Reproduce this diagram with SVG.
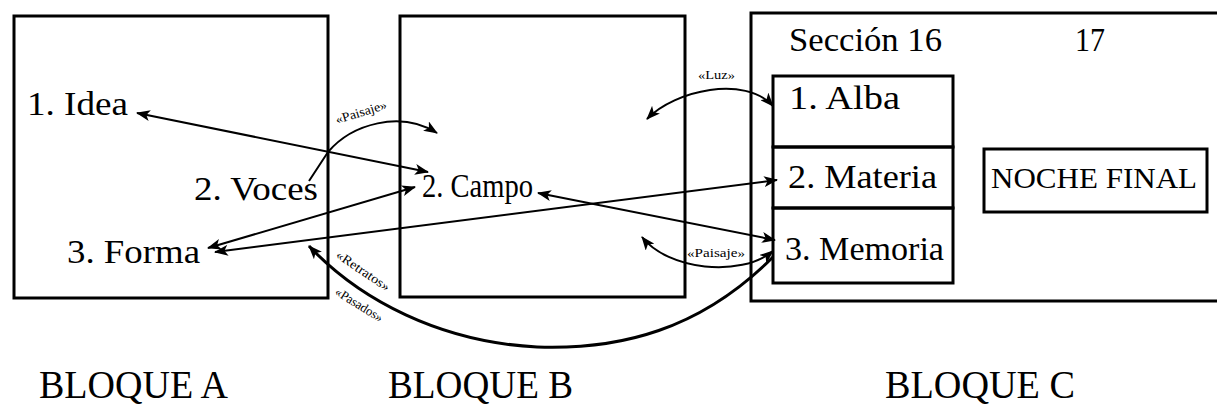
<svg xmlns="http://www.w3.org/2000/svg" width="1217" height="408" viewBox="0 0 1217 408">
<style>
.box{fill:none;stroke:#000;stroke-width:3}
.t{font-family:"Liberation Serif",serif;fill:#000}
.lbl{font-size:33px}
.big{font-size:40px}
.sm{font-family:"Liberation Serif",serif;font-size:13px;fill:#000}
.c{fill:none;stroke:#000;stroke-width:2}
.cb{fill:none;stroke:#000;stroke-width:3}
</style>
<defs>
<marker id="ah" viewBox="0 0 14 11" refX="13" refY="5.5" markerWidth="14" markerHeight="11" markerUnits="userSpaceOnUse" orient="auto-start-reverse">
<path d="M0,0 L14,5.5 L0,11 L3.5,5.5 Z" fill="#000"/>
</marker>
</defs>
<rect width="1217" height="408" fill="#fff"/>

<g id="bloqueA">
<rect class="box" x="14" y="16" width="314" height="282"/>
<text class="t lbl" x="27" y="115" textLength="101" lengthAdjust="spacingAndGlyphs">1. Idea</text>
<text class="t lbl" x="194" y="200" textLength="124" lengthAdjust="spacingAndGlyphs">2.  Voces</text>
<text class="t lbl" x="67" y="263" textLength="133" lengthAdjust="spacingAndGlyphs">3.  Forma</text>
<text class="t big" x="39" y="398" textLength="189" lengthAdjust="spacingAndGlyphs">BLOQUE A</text>
</g>

<g id="bloqueB">
<rect class="box" x="400" y="16" width="285" height="281"/>
<text class="t lbl" x="422" y="197" textLength="111" lengthAdjust="spacingAndGlyphs">2. Campo</text>
<text class="t big" x="388" y="398" textLength="185" lengthAdjust="spacingAndGlyphs">BLOQUE B</text>
</g>

<g id="bloqueC">
<path class="box" d="M1217,13 L751,13 L751,301 L1217,301"/>
<text class="t lbl" x="789" y="51" textLength="153" lengthAdjust="spacingAndGlyphs">Sección  16</text>
<text class="t lbl" x="1075" y="51" textLength="30" lengthAdjust="spacingAndGlyphs">17</text>
<text class="t big" x="885" y="398" textLength="190" lengthAdjust="spacingAndGlyphs">BLOQUE C</text>
</g>

<g id="alba">
<rect class="box" x="773" y="76" width="180" height="71"/>
<text class="t lbl" x="789" y="109" textLength="111" lengthAdjust="spacingAndGlyphs">1.  Alba</text>
</g>
<g id="materia">
<rect class="box" x="773" y="147" width="180" height="61"/>
<text class="t lbl" x="788" y="188" textLength="149" lengthAdjust="spacingAndGlyphs">2.  Materia</text>
</g>
<g id="memoria">
<rect class="box" x="773" y="208" width="180" height="75"/>
<text class="t lbl" x="785" y="260" textLength="159" lengthAdjust="spacingAndGlyphs">3. Memoria</text>
</g>
<g id="noche">
<rect class="box" x="984" y="149" width="223" height="63" stroke-width="2"/>
<text class="t" font-size="30" x="991" y="188" textLength="206" lengthAdjust="spacingAndGlyphs">NOCHE FINAL</text>
</g>

<g id="connectors">
<line class="c" x1="137" y1="113" x2="428" y2="172" marker-start="url(#ah)" marker-end="url(#ah)"/>
<path class="c" d="M309,181 L328,152 C352,124 400,110 437,133" marker-end="url(#ah)"/>
<line class="c" x1="208" y1="248" x2="415" y2="187" marker-start="url(#ah)" marker-end="url(#ah)"/>
<line class="c" x1="215" y1="252" x2="777" y2="180" marker-start="url(#ah)" marker-end="url(#ah)"/>
<line class="c" x1="538" y1="193" x2="775" y2="240" marker-start="url(#ah)" marker-end="url(#ah)"/>
<path class="c" d="M642,237 C668,270 740,278 773,251" marker-start="url(#ah)" marker-end="url(#ah)"/>
<path class="c" d="M647,119 C675,90 745,75 773,106" marker-start="url(#ah)" marker-end="url(#ah)"/>
<path class="cb" d="M773,257 C700,330 620,350 537,347 C440,342 360,300 309,246" marker-end="url(#ah)"/>
<text class="sm" transform="translate(337,124) rotate(-17)" textLength="53" lengthAdjust="spacingAndGlyphs">«Paisaje»</text>
<text class="sm" x="698" y="79" textLength="37" lengthAdjust="spacingAndGlyphs">«Luz»</text>
<text class="sm" x="687" y="257" textLength="58" lengthAdjust="spacingAndGlyphs">«Paisaje»</text>
<text class="sm" transform="translate(335,257) rotate(34)" textLength="62" lengthAdjust="spacingAndGlyphs">«Retratos»</text>
<text class="sm" transform="translate(334,294) rotate(32)" textLength="54" lengthAdjust="spacingAndGlyphs">«Pasados»</text>
</g>
</svg>
